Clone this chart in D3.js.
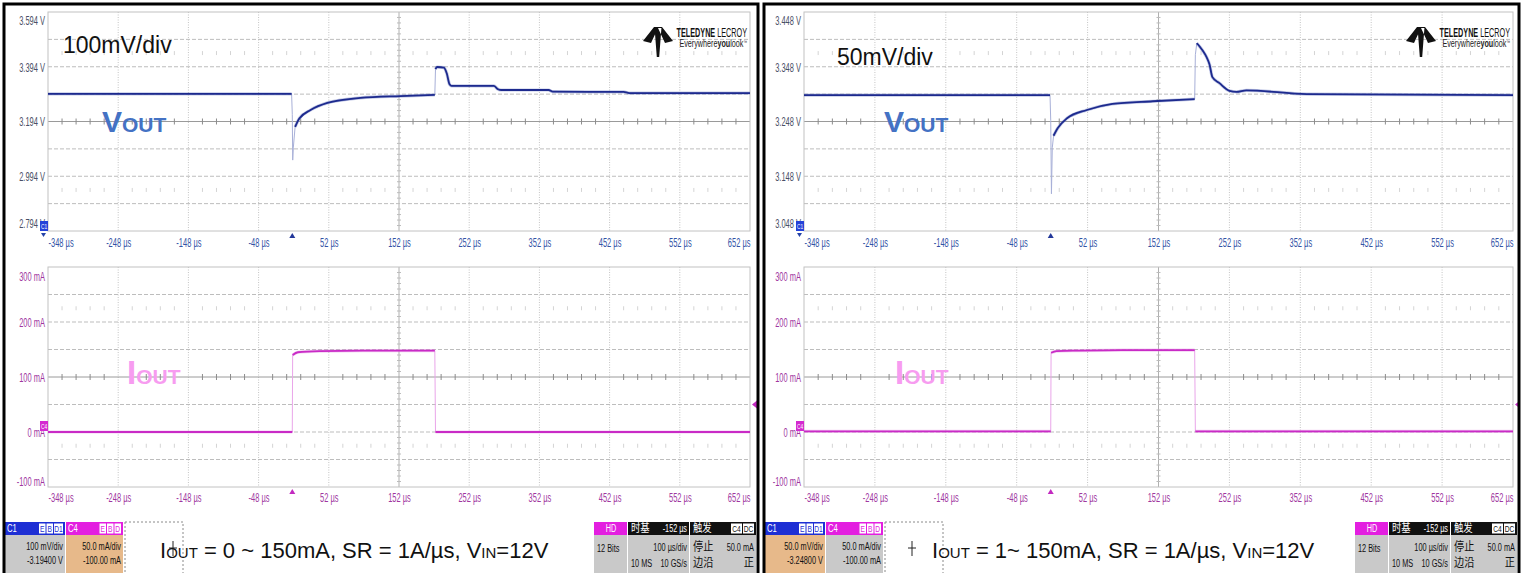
<!DOCTYPE html>
<html>
<head>
<meta charset="utf-8">
<script src="https://cdn.jsdelivr.net/npm/d3@7"></script>
<style>
  body { margin: 0; background: #fff; }
  svg { display: block; }
  .narrow, .sans { font-family: "Liberation Sans", Arial, sans-serif; }
  .cjk { font-family: "Noto Sans CJK SC", sans-serif; }
</style>
</head>
<body>
<svg id="scope" width="1524" height="573"></svg>
<script>
// ---- axis tick labels ----
const timeTicks = [-348, -248, -148, -48, 52, 152, 252, 352, 452, 552, 652];
const voltTicksA = [3.594, 3.394, 3.194, 2.994, 2.794];   // 100 mV/div
const voltTicksB = [3.448, 3.348, 3.248, 3.148, 3.048];   // 50 mV/div
const currentTicks = [300, 200, 100, 0, -100];            // 50 mA/div

// ---- waveforms: [time µs, value] ----
// V_OUT for the 0 → 150 mA load step (volts)
const voutA = [
  [-348, 3.295], [-1, 3.295], [0, 3.22], [0.6, 3.053], [1.5, 3.10], [4, 3.174],
  [10, 3.205], [26, 3.236], [50, 3.262], [97, 3.280], [154, 3.287], [203, 3.291],
  [204, 3.385], [206, 3.393], [216, 3.391], [220, 3.37], [224, 3.330], [227, 3.324],
  [287, 3.324], [293, 3.312], [298, 3.309], [365, 3.309], [371, 3.303], [472, 3.302],
  [480, 3.298], [652, 3.298]
];
// I_OUT for the 0 → 150 mA load step (mA)
const ioutA = [
  [-348, 0], [0, 0], [0.5, 140], [8, 145], [40, 147], [100, 148], [203, 148],
  [204, 0], [652, 0]
];
// V_OUT for the 1 → 150 mA load step (volts)
const voutB = [
  [-348, 3.296], [-1, 3.296], [0, 3.25], [1, 3.116], [2.2, 3.20], [4, 3.222],
  [10, 3.236], [23, 3.254], [51, 3.269], [87, 3.280], [144, 3.285],
  [203, 3.289], [204, 3.37], [206, 3.391], [210, 3.385], [214, 3.378], [220, 3.365],
  [224, 3.352], [228, 3.329], [238, 3.318], [252, 3.304], [262, 3.302], [276, 3.305],
  [361, 3.298], [652, 3.296]
];
// I_OUT for the 1 → 150 mA load step (mA)
const ioutB = [
  [-348, 1], [0, 1], [0.5, 144], [8, 147], [40, 148], [100, 149], [203, 149],
  [204, 1], [652, 1]
];

// ---- status-bar texts ----
const chanA = { c1: ["100 mV/div", "-3.19400 V"], c4: ["50.0 mA/div", "-100.00 mA"], sel: "c4" };
const chanB = { c1: ["50.0 mV/div", "-3.24800 V"], c4: ["50.0 mA/div", "-100.00 mA"], sel: "c1" };
const captionA = ["I", "OUT", " = 0 ~ 150mA, SR = 1A/µs, V", "IN", "=12V"];
const captionB = ["I", "OUT", " = 1~ 150mA, SR = 1A/µs, V", "IN", "=12V"];
const scaleNoteA = "100mV/div";
const scaleNoteB = "50mV/div";

const svg = d3.select("#scope");
svg.append("rect").attr("width", 1524).attr("height", 573).attr("fill", "#fff");

const panels = [
  { fx: 4, fw: 754, px0: 48, px1: 750, vTicks: voltTicksA, vout: voutA, iout: ioutA,
    chan: chanA, caption: captionA, note: scaleNoteA, noteX: 63, noteY: 53, capX: 160, cross: 173,
    vX: 102, iX: 127 },
  { fx: 764, fw: 755, px0: 804, px1: 1513, vTicks: voltTicksB, vout: voutB, iout: ioutB,
    chan: chanB, caption: captionB, note: scaleNoteB, noteX: 837, noteY: 65, capX: 932, cross: 912,
    vX: 884, iX: 895 }
];

const TOP = [12, 231], BOT = [267, 487];
const tickBlue = "#3353a6", tickMag = "#a0379f", yLabTop = "#4a4f66";

// horizontal squeeze for the scope's condensed lettering
function squeeze(sel, k) {
  sel.each(function () {
    const t = d3.select(this);
    const x = +t.attr("x") || 0;
    t.attr("transform", `translate(${x},0) scale(${k},1) translate(${-x},0)`);
  });
}

function grid(g, x0, x1, y0, y1) {
  const w = x1 - x0, h = y1 - y0, dx = w / 10, dy = h / 8;
  const xc = x0 + 5 * dx, yc = y0 + 4 * dy;
  for (let i = 1; i < 10; i++) {
    g.append("line").attr("x1", x0 + i * dx).attr("x2", x0 + i * dx).attr("y1", y0).attr("y2", y1)
      .attr("stroke", i === 5 ? "#b0b0b0" : "#c4c4c4").attr("stroke-width", 1)
      .attr("stroke-dasharray", i === 5 ? null : "1,1.5");
  }
  for (let j = 1; j < 8; j++) {
    g.append("line").attr("x1", x0).attr("x2", x1).attr("y1", y0 + j * dy).attr("y2", y0 + j * dy)
      .attr("stroke", j === 4 ? "#9a9a9a" : "#bdbdbd").attr("stroke-width", 1)
      .attr("stroke-dasharray", j === 4 ? null : "4,2");
  }
  for (let k = 1; k < 50; k++) {
    if (k % 5 === 0) continue;
    const xx = x0 + k * dx / 5;
    g.append("line").attr("x1", xx).attr("x2", xx).attr("y1", yc - 3).attr("y2", yc + 3)
      .attr("stroke", "#8c8c8c").attr("stroke-width", 1);
    [yc - 2.5 * dy, yc + 2.5 * dy].forEach(yy => {
      g.append("line").attr("x1", xx).attr("x2", xx).attr("y1", yy - 2).attr("y2", yy + 2)
        .attr("stroke", "#d4d4d4").attr("stroke-width", 1);
    });
  }
  for (let k = 1; k < 40; k++) {
    if (k % 5 === 0) continue;
    const yy = y0 + k * dy / 5;
    g.append("line").attr("x1", xc - 2).attr("x2", xc + 2).attr("y1", yy).attr("y2", yy)
      .attr("stroke", "#bcbcbc").attr("stroke-width", 1);
  }
  g.append("rect").attr("x", x0).attr("y", y0).attr("width", w).attr("height", h)
    .attr("fill", "none").attr("stroke", "#c2c2c2").attr("stroke-width", 1);
}

function drawTrace(g, pts, x, y, main, halo, edge) {
  const P = pts.map(d => [x(d[0]), y(d[1])]);
  const line = d3.line().x(d => d[0]).y(d => d[1]);
  g.append("path").attr("d", line(P)).attr("fill", "none").attr("stroke", edge).attr("stroke-width", 1);
  const runs = [];
  let run = [P[0]];
  for (let i = 1; i < P.length; i++) {
    const ddx = Math.abs(P[i][0] - P[i - 1][0]), ddy = Math.abs(P[i][1] - P[i - 1][1]);
    if (ddy > 6 && ddy > ddx * 5) { if (run.length > 1) runs.push(run); run = [P[i]]; }
    else run.push(P[i]);
  }
  if (run.length > 1) runs.push(run);
  const smooth = d3.line().x(d => d[0]).y(d => d[1]).curve(d3.curveMonotoneX);
  runs.forEach(r => {
    g.append("path").attr("d", smooth(r)).attr("fill", "none").attr("stroke", halo)
      .attr("stroke-width", 3.2).attr("stroke-linejoin", "round").attr("opacity", 0.4);
    g.append("path").attr("d", smooth(r)).attr("fill", "none").attr("stroke", main)
      .attr("stroke-width", 1.8).attr("stroke-linejoin", "round");
  });
}

function timeAxis(g, x, yPos, color) {
  const ax = g.append("g").attr("transform", `translate(0,${yPos})`)
    .call(d3.axisBottom(x).tickValues(timeTicks).tickSize(0).tickPadding(0).tickFormat(d => `${d} µs`));
  ax.select(".domain").remove();
  const t = ax.selectAll("text").attr("class", "narrow").attr("font-size", 12.5).attr("fill", color)
    .attr("dy", "0.35em")
    .attr("text-anchor", (d, i) => i === 0 ? "start" : (i === timeTicks.length - 1 ? "end" : "middle"));
  squeeze(t, 0.6);
}

function valueAxis(g, y, xPos, ticks, fmt, color, topShift, botShift) {
  const ax = g.append("g").attr("transform", `translate(${xPos},0)`)
    .call(d3.axisLeft(y).tickValues(ticks).tickSize(0).tickPadding(3).tickFormat(fmt));
  ax.select(".domain").remove();
  const t = ax.selectAll("text").attr("class", "narrow").attr("font-size", 12.5).attr("fill", color)
    .attr("dy", (d, i) => i === 0 ? topShift : (i === ticks.length - 1 ? botShift : "0.35em"));
  squeeze(t, 0.6);
}

function chanMarker(g, x, y, label, fill) {
  g.append("rect").attr("x", x - 8).attr("y", y - 10).attr("width", 8).attr("height", 10).attr("fill", fill);
  const t = g.append("text").attr("class", "narrow").attr("x", x - 4).attr("y", y - 2).attr("font-size", 8)
    .attr("text-anchor", "middle").attr("fill", "#fff").text(label);
  squeeze(t, 0.6);
}

function sText(g, x, y, txt, size, anchor, fill, k) {
  const isC = /[\u4e00-\u9fff]/.test(txt);
  const t = g.append("text").attr("class", isC ? "cjk" : "narrow").attr("x", x).attr("y", y)
    .attr("font-size", size).attr("text-anchor", anchor).attr("fill", fill).text(txt);
  squeeze(t, k);
  return t;
}

function statusBar(g, p) {
  const L = p.fx + 1, y0 = 522, hh = 13, yb = 573;
  const gray = "#c9c9c9", tan = "#e7b98a";
  const boxes = [
    { x: L, w: 61, head: "#1e2fd4", name: "C1", tags: ["E", "B", "D1"], txt: p.chan.c1, sel: p.chan.sel === "c1" },
    { x: L + 61, w: 58, head: "#e31fe0", name: "C4", tags: ["E", "B", "D"], txt: p.chan.c4, sel: p.chan.sel === "c4" }
  ];
  boxes.forEach(b => {
    g.append("rect").attr("x", b.x).attr("y", y0).attr("width", b.w - 1).attr("height", hh).attr("fill", b.head);
    g.append("rect").attr("x", b.x).attr("y", y0 + hh).attr("width", b.w - 1).attr("height", yb - y0 - hh)
      .attr("fill", b.sel ? tan : gray);
    sText(g, b.x + 2, y0 + 10.5, b.name, 11, "start", "#fff", 0.7);
    let tx = b.x + b.w - 2;
    b.tags.slice().reverse().forEach(t => {
      const tw = t.length > 1 ? 10 : 7.5;
      tx -= tw;
      g.append("rect").attr("x", tx).attr("y", y0 + 1.5).attr("width", tw - 1).attr("height", hh - 3)
        .attr("fill", "#fff");
      sText(g, tx + (tw - 1) / 2, y0 + 10, t, 9.5, "middle", b.head, 0.7);
    });
    b.txt.forEach((t, i) => sText(g, b.x + b.w - 3, y0 + 28 + i * 14, t, 11.5, "end", "#111", 0.64));
  });
  // cursor readout box
  const cx = L + 120;
  g.append("rect").attr("x", cx).attr("y", y0).attr("width", 58).attr("height", yb - y0 + 2)
    .attr("fill", "#fff").attr("stroke", "#8a8a8a").attr("stroke-dasharray", "2,2");
  g.append("path").attr("d", `M${p.cross - 4},548H${p.cross + 4}M${p.cross},541V556`)
    .attr("stroke", "#222").attr("stroke-width", 1);
  // caption
  const cap = g.append("text").attr("class", "sans").attr("x", p.capX).attr("y", 558)
    .attr("font-size", 22).attr("fill", "#111");
  p.caption.forEach((s, i) => cap.append("tspan").attr("font-size", i % 2 === 1 ? 15 : 22).text(s));

  // acquisition boxes on the right
  const R = p.fx + p.fw - 1;
  const acq = [
    { x: R - 163, w: 34, head: "#e31fe0", h: [["HD", "middle"]], rows: [["12 Bits", "start", 3, 30]] },
    { x: R - 129, w: 62, head: "#111", h: [["时基", "start"], ["-152 µs", "end"]],
      rows: [["100 µs/div", "end", 0, 29], ["10 MS", "start", 3, 45], ["10 GS/s", "end", 0, 45]] },
    { x: R - 67, w: 67, head: "#111", h: [["触发", "start"]],
      rows: [["停止", "start", 3, 29], ["50.0 mA", "end", 0, 29], ["边沿", "start", 3, 45], ["正", "end", 0, 45]],
      tags: ["C4", "DC"] }
  ];
  acq.forEach(a => {
    g.append("rect").attr("x", a.x).attr("y", y0).attr("width", a.w - 1).attr("height", hh).attr("fill", a.head);
    g.append("rect").attr("x", a.x).attr("y", y0 + hh).attr("width", a.w - 1).attr("height", yb - y0 - hh).attr("fill", gray);
    a.h.forEach(([t, anc]) => {
      const isC = /[\u4e00-\u9fff]/.test(t);
      sText(g, anc === "middle" ? a.x + a.w / 2 : anc === "start" ? a.x + 3 : a.x + a.w - 3,
        y0 + 10.5, t, 11, anc, "#fff", isC ? 0.85 : 0.66);
    });
    a.rows.forEach(([t, anc, off, yy]) => {
      const isC = /[\u4e00-\u9fff]/.test(t);
      sText(g, anc === "start" ? a.x + off : a.x + a.w - 3, y0 + yy, t, isC ? 12 : 11.5, anc, "#111",
        isC ? 0.85 : 0.64);
    });
    if (a.tags) {
      let tx = a.x + a.w - 2;
      a.tags.slice().reverse().forEach(t => {
        tx -= 12;
        g.append("rect").attr("x", tx).attr("y", y0 + 1.5).attr("width", 11).attr("height", hh - 3).attr("fill", "#fff");
        sText(g, tx + 5.5, y0 + 10, t, 9.5, "middle", "#111", 0.7);
      });
    }
  });
}

function logo(g, x1, yTop) {
  const mx = x1 - 107, my = yTop;
  // winged mark
  g.append("path").attr("fill", "#111").attr("d",
    `M${mx},${my + 14} L${mx + 11},${my} L${mx + 15},${my + 1} L${mx + 8},${my + 16} Z` +
    `M${mx + 30},${my + 14} L${mx + 19},${my} L${mx + 15},${my + 1} L${mx + 22},${my + 16} Z` +
    `M${mx + 11.5},${my} L${mx + 18.5},${my} L${mx + 16.2},${my + 30} L${mx + 13.8},${my + 30} Z`);
  const t = g.append("text").attr("class", "narrow").attr("x", x1 - 3).attr("y", yTop + 10)
    .attr("text-anchor", "end").attr("font-size", 12.5).attr("fill", "#111");
  t.append("tspan").attr("font-weight", "bold").text("TELEDYNE ");
  t.append("tspan").text("LECROY");
  squeeze(t, 0.58);
  const s = g.append("text").attr("class", "narrow").attr("x", x1 - 3).attr("y", yTop + 20)
    .attr("text-anchor", "end").attr("font-size", 10).attr("fill", "#222");
  s.append("tspan").text("Everywhere");
  s.append("tspan").attr("font-weight", "bold").text("you");
  s.append("tspan").text("look");
  s.append("tspan").attr("font-size", 5).attr("dy", -3).text("™");
  squeeze(s, 0.72);
}

panels.forEach(p => {
  const g = svg.append("g");
  const x = d3.scaleLinear().domain([timeTicks[0], timeTicks[timeTicks.length - 1]]).range([p.px0, p.px1]);
  const yV = d3.scaleLinear().domain([p.vTicks[p.vTicks.length - 1], p.vTicks[0]]).range([TOP[1], TOP[0]]);
  const yI = d3.scaleLinear().domain([currentTicks[currentTicks.length - 1], currentTicks[0]]).range([BOT[1], BOT[0]]);

  grid(g, p.px0, p.px1, TOP[0], TOP[1]);
  grid(g, p.px0, p.px1, BOT[0], BOT[1]);

  logo(g, p.px1, 27);

  g.append("text").attr("class", "sans").attr("x", p.noteX).attr("y", p.noteY)
    .attr("font-size", 23).attr("fill", "#111").text(p.note);
  const vl = g.append("text").attr("class", "sans").attr("x", p.vX).attr("y", 132)
    .attr("font-weight", "bold").attr("fill", "#4472c4");
  vl.append("tspan").attr("font-size", 30).text("V");
  vl.append("tspan").attr("font-size", 21).text("OUT");
  const il = g.append("text").attr("class", "sans").attr("x", p.iX).attr("y", 384)
    .attr("font-weight", "bold").attr("fill", "#f79cf0");
  il.append("tspan").attr("font-size", 33).text("I");
  il.append("tspan").attr("font-size", 21).text("OUT");

  drawTrace(g, p.vout, x, yV, "#1d2a8e", "#6a78c0", "#a8b0d8");
  drawTrace(g, p.iout, x, yI, "#c92bc6", "#e08ae0", "#eaa6ea");

  timeAxis(g, x, 243, tickBlue);
  timeAxis(g, x, 498, tickMag);
  valueAxis(g, yV, p.px0, p.vTicks, d => `${d.toFixed(3)} V`, yLabTop, "1.0em", "-0.25em");
  valueAxis(g, yI, p.px0, currentTicks, d => `${d} mA`, tickMag, "1.05em", "-0.1em");

  chanMarker(g, p.px0, yV(p.vTicks[p.vTicks.length - 1]), "C1", "#2442d8");
  g.append("path").attr("d", `M${p.px0 - 7},${TOP[1] + 2}L${p.px0 - 2},${TOP[1] + 2}L${p.px0 - 4.5},${TOP[1] + 6}Z`)
    .attr("fill", "#2442a8");
  chanMarker(g, p.px0, yI(0) - 1, "C4", "#d42ad0");
  g.append("path").attr("d", `M${x(0) - 3},${TOP[1] + 7}L${x(0) + 3},${TOP[1] + 7}L${x(0)},${TOP[1] + 2}Z`).attr("fill", "#23389a");
  g.append("path").attr("d", `M${x(0) - 3},${BOT[1] + 7}L${x(0) + 3},${BOT[1] + 7}L${x(0)},${BOT[1] + 2}Z`).attr("fill", "#c22ac0");
  g.append("path").attr("d", `M${p.px1 + 2},${yI(50)}L${p.px1 + 7},${yI(50) - 4}L${p.px1 + 7},${yI(50) + 4}Z`).attr("fill", "#c22ac0");

  statusBar(g, p);

  g.append("rect").attr("x", p.fx).attr("y", 4).attr("width", p.fw).attr("height", 572)
    .attr("fill", "none").attr("stroke", "#000").attr("stroke-width", 3);
});
</script>
</body>
</html>
